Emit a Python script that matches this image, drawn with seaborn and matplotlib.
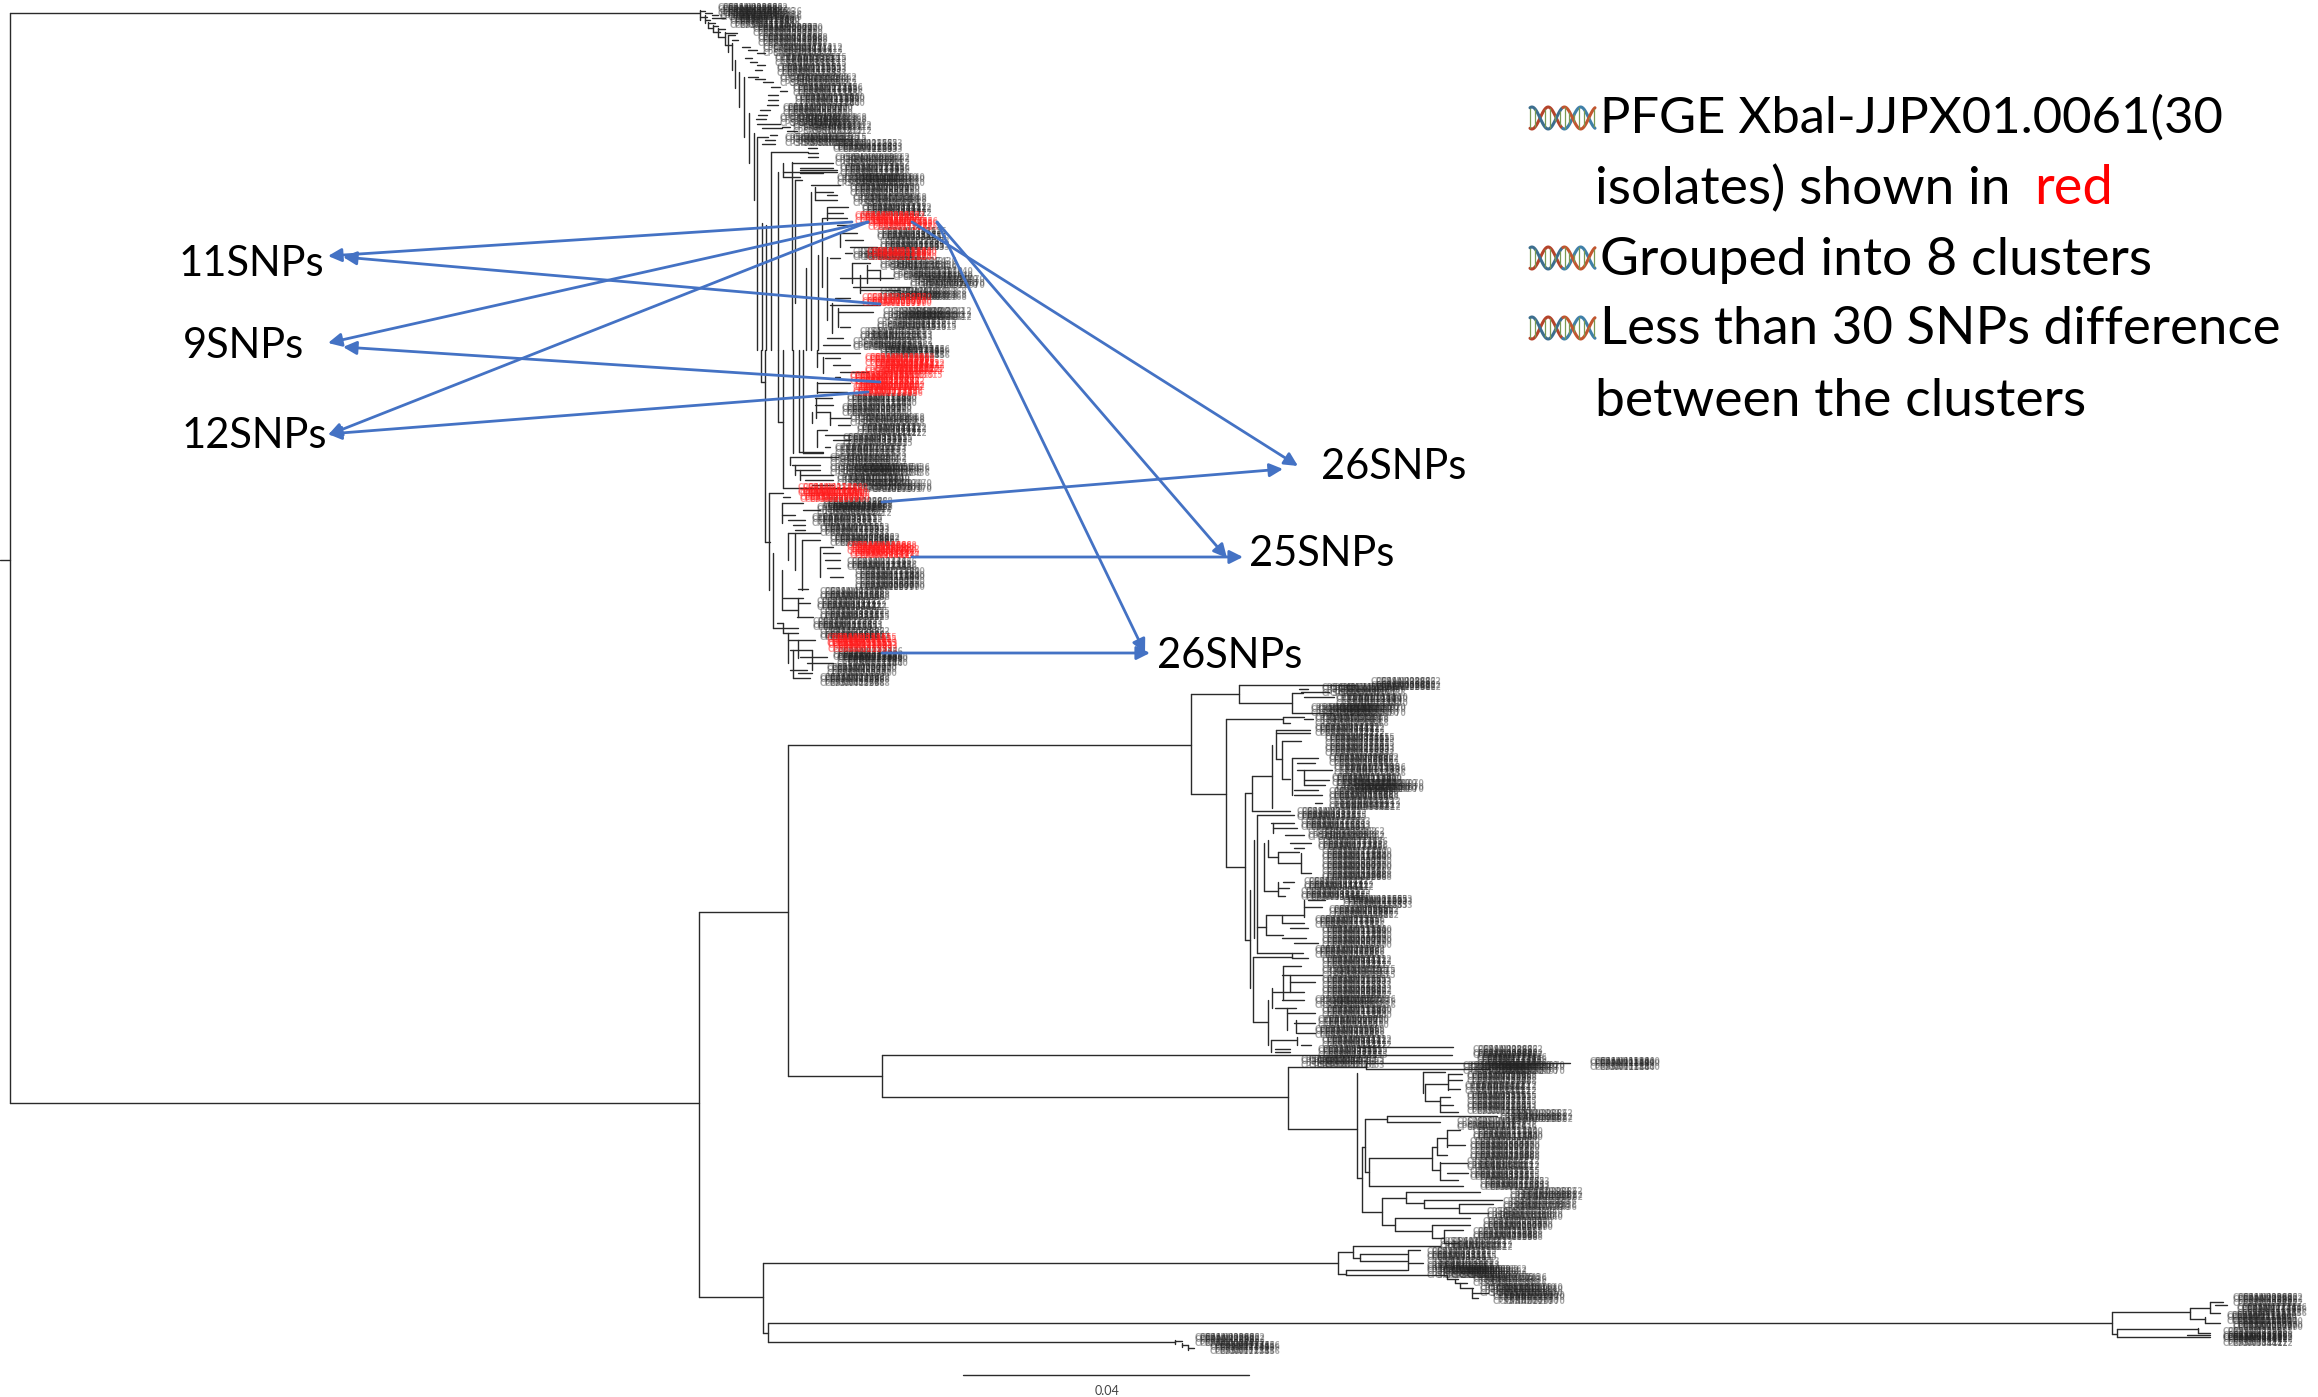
import numpy as np
import pandas as pd
import matplotlib.pyplot as plt
import seaborn as sns

# every table below is in pixels of the reference (y going down)
# label blobs: row y, leftmost label start, rightmost label end
top_y = [10, 15, 22, 30, 40, 50, 60, 70, 80, 90, 100, 110, 120, 128, 140, 147, 160, 170, 180, 190, 200, 210,
         235, 245, 255, 265, 275, 283, 295, 315, 325, 335, 345, 352, 400, 410, 420, 430, 440, 450, 460, 470,
         480, 487, 505, 510, 520, 530, 540, 565, 575, 585, 595, 605, 615, 625, 635, 655, 660, 670, 680]
top_left = [718, 720, 730, 753, 758, 763, 775, 777, 780, 793, 795, 783, 780, 793, 785, 833, 835, 840, 837, 850, 853, 862,
            877, 880, 853, 880, 893, 910, 880, 883, 877, 860, 853, 880, 847, 842, 850, 857, 843, 835, 830, 830,
            837, 853, 823, 817, 812, 820, 830, 847, 855, 855, 820, 817, 820, 813, 820, 833, 837, 827, 820]
top_right = [783, 802, 790, 813, 827, 843, 847, 847, 857, 860, 853, 847, 867, 872, 867, 892, 910, 907, 925, 920, 927, 928,
             940, 950, 927, 957, 973, 985, 967, 972, 957, 933, 933, 943, 908, 907, 925, 925, 910, 907, 907, 930,
             910, 932, 883, 892, 883, 877, 883, 915, 917, 917, 883, 887, 888, 873, 877, 900, 908, 890, 883]

red_y = [218, 224, 254, 301, 360, 366, 372, 378, 385, 391, 491, 497, 548, 553, 640, 646]
red_left = [855, 868, 867, 862, 865, 875, 865, 850, 855, 853, 798, 800, 847, 850, 827, 828]
red_right = [918, 922, 927, 923, 905, 930, 943, 920, 922, 922, 858, 862, 910, 910, 888, 888]

mid_y = [685, 690, 700, 710, 720, 730, 740, 750, 760, 770, 780, 787, 795, 805, 815, 825, 835, 845, 855, 865, 875,
         885, 895, 902, 912, 922, 932, 942, 952, 962, 972, 982, 992, 1002, 1012, 1022, 1032, 1042, 1052, 1062]
mid_left = [1371, 1322, 1336, 1311, 1315, 1315, 1325, 1325, 1329, 1334, 1332, 1336, 1329, 1329, 1297, 1301, 1308, 1318, 1322, 1322, 1322,
            1304, 1301, 1343, 1329, 1315, 1322, 1322, 1315, 1322, 1322, 1322, 1322, 1315, 1322, 1318, 1315, 1322, 1318, 1301]
mid_right = [1431, 1406, 1408, 1406, 1389, 1385, 1389, 1389, 1392, 1406, 1401, 1424, 1396, 1401, 1364, 1369, 1385, 1382, 1382, 1383, 1387,
             1366, 1364, 1401, 1385, 1378, 1392, 1392, 1385, 1389, 1396, 1392, 1382, 1396, 1392, 1389, 1385, 1385, 1385, 1385]

low_y = [1053, 1060, 1064, 1068, 1078, 1088, 1098, 1108, 1117, 1125, 1135, 1145, 1155, 1165, 1175, 1185, 1195,
         1205, 1215, 1225, 1235, 1245, 1255, 1265, 1272, 1280, 1290, 1298]
low_left = [1473, 1477, 1590, 1463, 1467, 1465, 1467, 1467, 1500, 1457, 1473, 1470, 1470, 1467, 1470, 1480, 1510,
            1503, 1487, 1483, 1473, 1440, 1427, 1427, 1427, 1473, 1480, 1493]
low_right = [1537, 1538, 1652, 1565, 1537, 1537, 1530, 1533, 1573, 1537, 1540, 1537, 1527, 1540, 1540, 1535, 1583,
             1577, 1563, 1550, 1540, 1513, 1487, 1500, 1527, 1547, 1563, 1565]

far_y = [1300, 1310, 1318, 1325, 1335, 1340]
far_left = [2233, 2237, 2227, 2233, 2223, 2223]
far_right = [2297, 2300, 2295, 2293, 2287, 2285]

stub_y = [1340, 1348]
stub_left = [1195, 1210]
stub_right = [1258, 1270]

tip_ids = ['CPSAN029862', 'CPSAN017436', 'CPSAN011840', 'CPSAN020970', 'CPSAN042968', 'CPSAN034412', 'CPSAN033615', 'CPSAN012653']

# backbone of the tree, (y, x0, x1) and (x, y0, y1)
root_h = [(560, 0, 10), (13, 10, 700), (1103, 10, 699), (912, 699, 788), (1297, 699, 763), (745, 788, 1191),
          (1076, 788, 882), (1055, 882, 1452), (1097, 882, 1288), (1333, 763, 768), (1263, 763, 1338),
          (1323, 768, 2112), (1342, 768, 1175), (1375, 963, 1249)]
root_v = [(10, 13, 1103), (699, 912, 1297), (788, 745, 1076), (882, 1055, 1097), (763, 1263, 1333), (768, 1323, 1342)]

# upper clade, crop units at 3x with origin (680, 0)
up_a_h = [(33, 60, 75), (50, 60, 80), (40, 75, 95), (60, 75, 90), (45, 95, 115), (55, 95, 135), (68, 85, 105), (85, 85, 100),
          (78, 100, 115), (95, 100, 120), (88, 115, 135), (110, 115, 135), (100, 135, 170), (135, 135, 155), (105, 145, 165),
          (120, 155, 175), (140, 185, 210), (150, 205, 230), (158, 230, 255), (175, 195, 215), (185, 210, 232), (195, 232, 255),
          (210, 225, 245), (230, 205, 235), (238, 225, 255), (245, 250, 280), (260, 272, 300), (272, 300, 320), (285, 265, 295),
          (300, 265, 295), (315, 260, 295), (330, 240, 270), (345, 235, 260), (358, 228, 258), (372, 230, 300), (385, 245, 305),
          (380, 305, 330), (392, 320, 350), (410, 230, 265), (405, 270, 290), (420, 255, 285), (432, 245, 285), (455, 272, 385),
          (445, 385, 410), (458, 385, 415), (472, 385, 415), (490, 335, 460), (503, 360, 460), (515, 310, 470), (530, 310, 360),
          (510, 360, 470), (520, 360, 430), (540, 345, 365), (555, 392, 480), (575, 405, 460), (585, 440, 470), (600, 405, 470),
          (620, 445, 505), (640, 440, 490), (655, 428, 500), (675, 470, 510), (700, 480, 530), (720, 495, 550), (740, 510, 590),
          (760, 495, 515), (775, 450, 480), (790, 515, 570), (810, 560, 600), (835, 480, 640), (860, 520, 690), (870, 540, 660),
          (895, 465, 510), (915, 450, 600), (935, 475, 580), (980, 480, 510), (1015, 440, 490), (1035, 430, 510)]
up_a_v = [(60, 30, 60), (75, 45, 70), (85, 65, 85), (100, 75, 95), (115, 85, 110), (135, 95, 135), (145, 105, 155),
          (155, 130, 210), (165, 180, 265), (178, 215, 320), (192, 230, 410), (208, 340, 490), (222, 400, 600), (230, 415, 1050),
          (245, 670, 1050), (258, 675, 1050), (272, 455, 1050), (295, 515, 1050), (310, 490, 530), (335, 485, 1050), (345, 540, 910),
          (378, 805, 1050), (392, 575, 1050), (405, 560, 600), (415, 765, 1050), (425, 655, 860), (440, 620, 660), (440, 770, 960),
          (455, 910, 1000), (480, 700, 740), (515, 790, 850), (540, 825, 880), (560, 795, 850), (600, 810, 840), (475, 925, 980)]

# upper clade, crop units at 3x with origin (740, 350)
up_b_h = [(95, 62, 75), (415, 130, 345), (305, 178, 250), (310, 190, 250), (215, 115, 130), (575, 75, 90), (10, 230, 360),
          (25, 255, 300), (45, 280, 330), (65, 300, 385), (80, 285, 300), (100, 230, 330), (125, 230, 320), (145, 225, 275),
          (165, 225, 280), (185, 228, 270), (205, 270, 330), (225, 295, 330), (240, 235, 260), (255, 255, 330), (270, 280, 330),
          (290, 255, 270), (320, 150, 295), (345, 155, 240), (360, 165, 240), (375, 180, 280), (390, 195, 280), (405, 215, 280),
          (430, 88, 130), (440, 130, 150), (460, 125, 190), (480, 190, 240), (495, 125, 165), (510, 145, 195), (525, 160, 195),
          (540, 165, 195), (550, 145, 240), (570, 185, 240), (590, 240, 280), (610, 250, 300), (630, 255, 300), (655, 260, 300),
          (680, 270, 310), (718, 175, 205), (745, 130, 190), (780, 125, 175), (760, 175, 210), (800, 170, 220), (820, 110, 130),
          (835, 100, 175), (850, 130, 175), (870, 145, 225), (900, 150, 215), (920, 180, 260), (940, 200, 280), (960, 150, 200),
          (985, 160, 210), (970, 175, 215)]
up_b_v = [(62, 0, 95), (75, 0, 575), (115, 0, 215), (130, 0, 415), (160, 0, 310), (178, 0, 305), (190, 0, 310), (215, 185, 220),
          (230, 0, 50), (250, 20, 70), (230, 95, 130), (228, 145, 205), (270, 185, 225), (232, 240, 290), (150, 320, 345),
          (165, 345, 375), (180, 360, 390), (88, 430, 720), (100, 610, 835), (125, 460, 520), (145, 550, 630), (165, 550, 660),
          (185, 570, 720), (240, 590, 680), (125, 660, 780), (175, 745, 800), (130, 820, 850), (145, 850, 940), (160, 900, 985),
          (175, 870, 925), (215, 900, 960)]

# middle clade, crop units at 2.85 x 3 with origin (1150, 680)
mid_h = [(42, 118, 255), (342, 118, 218), (14, 255, 585), (70, 255, 405), (40, 405, 435), (100, 405, 520), (28, 425, 450),
         (35, 430, 510), (50, 440, 525), (118, 218, 380), (110, 380, 440), (130, 380, 400), (118, 440, 465), (287, 290, 347),
         (392, 290, 400), (150, 360, 455), (160, 360, 455), (183, 375, 430), (238, 360, 375), (297, 375, 400), (235, 405, 480),
         (250, 420, 470), (270, 420, 520), (300, 440, 510), (315, 440, 500), (330, 410, 480), (345, 410, 490), (370, 470, 490),
         (338, 272, 290), (560, 218, 272), (780, 272, 285), (405, 305, 410), (430, 345, 410), (445, 350, 420), (465, 385, 440),
         (490, 400, 460), (505, 410, 440), (532, 335, 365), (515, 365, 425), (550, 365, 430), (580, 430, 460), (632, 325, 365),
         (605, 380, 410), (625, 365, 395), (648, 365, 385), (660, 450, 500), (680, 440, 490), (705, 330, 440), (730, 375, 440),
         (745, 400, 450), (740, 305, 330), (765, 330, 380), (775, 375, 445), (790, 410, 480), (820, 305, 435), (830, 293, 405),
         (835, 405, 450), (858, 380, 430), (885, 375, 490), (905, 400, 470), (935, 350, 440), (960, 375, 440), (985, 355, 415),
         (1000, 390, 470), (1025, 293, 335), (1030, 410, 470), (1060, 420, 470), (1080, 345, 415), (1095, 430, 460),
         (1108, 355, 400), (1117, 355, 400)]
mid_v = [(118, 42, 342), (255, 14, 70), (405, 40, 100), (218, 118, 560), (272, 338, 780), (290, 287, 392), (347, 195, 385),
         (360, 150, 238), (375, 183, 297), (380, 110, 130), (405, 235, 345), (440, 270, 315), (305, 405, 820), (295, 480, 775),
         (285, 630, 925), (293, 830, 1025), (335, 480, 532), (350, 430, 460), (365, 515, 550), (430, 520, 580), (325, 490, 632),
         (365, 605, 648), (330, 705, 765), (375, 705, 730), (440, 660, 710), (405, 820, 835), (380, 858, 960), (400, 885, 935),
         (348, 925, 985), (335, 960, 1095), (390, 985, 1050), (415, 1020, 1060), (345, 1080, 1115), (420, 1070, 1095)]

# lower clade, crop units at 3x with origin (1240, 1030)
low_h = [(110, 143, 378), (298, 143, 352), (100, 378, 990), (118, 378, 750), (52, 350, 640), (125, 548, 615), (163, 555, 625),
         (213, 555, 600), (150, 625, 665), (178, 625, 660), (133, 625, 665), (200, 600, 630), (225, 600, 640), (245, 600, 655),
         (445, 352, 365), (350, 365, 375), (268, 375, 440), (258, 440, 770), (275, 440, 600), (425, 375, 388), (385, 388, 575),
         (467, 388, 670), (350, 575, 590), (325, 590, 620), (375, 590, 620), (300, 620, 660), (345, 620, 675), (420, 575, 600),
         (400, 600, 680), (430, 620, 685), (450, 600, 655), (545, 365, 427), (503, 427, 497), (485, 497, 720), (520, 497, 553),
         (510, 553, 785), (535, 553, 658), (522, 658, 760), (548, 658, 745), (585, 427, 465), (563, 465, 690), (603, 465, 575),
         (585, 575, 690), (625, 575, 610), (600, 612, 670), (640, 612, 650),
         (665, 295, 340), (648, 340, 600), (685, 340, 360), (672, 360, 500), (693, 360, 500), (660, 505, 540), (700, 505, 550),
         (732, 295, 318), (720, 318, 500), (735, 318, 620), (748, 620, 655), (760, 645, 680), (775, 660, 700), (790, 695, 745),
         (805, 695, 715)]
low_v = [(143, 110, 298), (378, 100, 118), (352, 128, 445), (548, 125, 190), (555, 163, 213), (625, 133, 180), (600, 200, 245),
         (365, 350, 545), (375, 268, 425), (440, 258, 275), (388, 385, 467), (575, 350, 420), (590, 325, 375), (620, 300, 350),
         (600, 395, 450), (427, 503, 585), (497, 485, 520), (553, 510, 535), (658, 522, 550), (465, 563, 603), (575, 585, 625),
         (612, 600, 640), (295, 665, 732), (340, 648, 685), (360, 672, 693), (505, 660, 720), (318, 720, 735), (620, 735, 748),
         (645, 748, 760), (660, 760, 775), (695, 775, 805)]

# far right clade, crop units at 3x with origin (2080, 1260)
far_h = [(157, 97, 330), (145, 330, 390), (177, 330, 375), (125, 390, 430), (160, 390, 420), (135, 405, 440), (190, 375, 420),
         (222, 97, 110), (208, 110, 355), (232, 110, 390), (218, 355, 390), (225, 320, 390)]
far_v = [(97, 157, 222), (330, 145, 177), (390, 125, 160), (375, 170, 190), (110, 208, 232), (355, 205, 220)]

# stub ladder beside the lower blob
stub_h = [(364, 1175, 1182), (375, 1182, 1188), (385, 1188, 1194)]
stub_v = [(1175, 360, 372), (1182, 368, 382), (1188, 375, 390)]

# arrows: tail x, tail y, head x, head y
arrow_x0 = [852, 868, 868, 880, 880, 868, 912, 937, 912, 937, 882, 882]
arrow_y0 = [222, 222, 222, 304, 382, 392, 222, 222, 557, 222, 653, 502]
arrow_x1 = [328, 328, 328, 343, 343, 328, 1298, 1227, 1243, 1145, 1150, 1283]
arrow_y1 = [256, 343, 435, 257, 347, 434, 466, 558, 557, 653, 653, 469]

snp_labels = ['11SNPs', '9SNPs', '12SNPs', '26SNPs', '25SNPs', '26SNPs']
snp_x = [179, 183, 182, 1321, 1249, 1157]
snp_y = [264, 346, 436, 467, 554, 656]

note_lines = ['PFGE Xbal-JJPX01.0061(30', 'isolates) shown in ', 'Grouped into 8 clusters',
              'Less than 30 SNPs difference', 'between the clusters']
note_x = [1600, 1595, 1600, 1600, 1595]
note_y = [118, 189, 260, 330, 401]
note_size = [36.5, 38.5, 38.5, 38, 38.5]
helix_y = [118, 258, 328]

segments = []


def add_lines(h, v, ox=0, oy=0, sx=1, sy=1):
    for y, x0, x1 in h:
        segments.append((ox + x0 / sx, oy + y / sy, ox + x1 / sx, oy + y / sy))
    for x, y0, y1 in v:
        segments.append((ox + x / sx, oy + y0 / sy, ox + x / sx, oy + y1 / sy))


add_lines(root_h, root_v)
add_lines(up_a_h, up_a_v, 680, 0, 3, 3)
add_lines(up_b_h, up_b_v, 740, 350, 3, 3)
add_lines(mid_h, mid_v, 1150, 680, 2.85, 3)
add_lines(low_h, low_v, 1240, 1030, 3, 3)
add_lines(far_h, far_v, 2080, 1260, 3, 3)
add_lines(stub_h, stub_v, 0, 1220, 1, 3)

rows = []
for i, (x0, y0, x1, y1) in enumerate(segments):
    rows.append({'seg': i, 'x': x0, 'y': y0})
    rows.append({'seg': i, 'x': x1, 'y': y1})
tree = pd.DataFrame(rows)

sns.set_theme(style='white')
plt.rcParams['font.family'] = ['Lato', 'DejaVu Sans']

fig = plt.figure(figsize=(23.18, 13.97), dpi=100)
ax = fig.add_axes([0, 0, 1, 1])

sns.lineplot(data=tree, x='x', y='y', units='seg', estimator=None, sort=False, color='#2a2a2a',
             linewidth=1.0, legend=False, ax=ax)


def tip_labels(ys, lefts, rights, color, alpha):
    # overlapping tip names, staggered across the width of each row
    for i, (y, l, r) in enumerate(zip(ys, lefts, rights)):
        name = tip_ids[i % len(tip_ids)]
        end = max(l + 10, r - 60)
        starts = np.linspace(l, end, max(3, 1 + int((end - l) / 7)))
        for dy in (-3, 0, 3):
            for s in starts:
                ax.text(s, y + dy, name, fontsize=5.5, fontweight='bold', family='DejaVu Sans', color=color,
                        alpha=alpha, va='center', ha='left')


tip_labels(top_y, top_left, top_right, '#222222', 0.4)
tip_labels(mid_y, mid_left, mid_right, '#222222', 0.4)
tip_labels(low_y, low_left, low_right, '#222222', 0.4)
tip_labels(far_y, far_left, far_right, '#222222', 0.4)
tip_labels(stub_y, stub_left, stub_right, '#222222', 0.4)
tip_labels(red_y, red_left, red_right, '#ff1a1a', 0.45)

for x0, y0, x1, y1 in zip(arrow_x0, arrow_y0, arrow_x1, arrow_y1):
    ax.annotate('', xy=(x1, y1), xytext=(x0, y0),
                arrowprops=dict(arrowstyle='-|>', color='#4472c4', lw=2.0, mutation_scale=20, shrinkA=0, shrinkB=0))

for label, x, y in zip(snp_labels, snp_x, snp_y):
    ax.text(x, y, label, fontsize=30, color='black', va='center', ha='left')

for line, x, y, size in zip(note_lines, note_x, note_y, note_size):
    ax.text(x, y, line, fontsize=size, color='black', va='center', ha='left')
ax.text(2034, 189, 'red', fontsize=39, color='#ff0000', va='center', ha='left')

# small dna bullets in front of the notes
t = np.linspace(0, 1, 80)
for y in helix_y:
    xs = 1530 + 65 * t
    a = y + 11 * np.sin(t * 4 * np.pi + 1.2)
    b = y - 11 * np.sin(t * 4 * np.pi + 1.2)
    ax.plot(xs[:40], a[:40], color='#b5432a', lw=2.2)
    ax.plot(xs[40:], a[40:], color='#3f7fa8', lw=2.2)
    ax.plot(xs[:40], b[:40], color='#3c6e8f', lw=2.2)
    ax.plot(xs[40:], b[40:], color='#c2552f', lw=2.2)
    ax.vlines(xs[::6], np.minimum(a, b)[::6], np.maximum(a, b)[::6], color='#7a9a52', lw=0.9)

ax.text(1107, 1391, '0.04', fontsize=9, color='#444444', va='center', ha='center')

ax.set_xlim(0, 2318)
ax.set_ylim(1397, 0)
ax.axis('off')
fig.savefig('out.png', dpi=100)
